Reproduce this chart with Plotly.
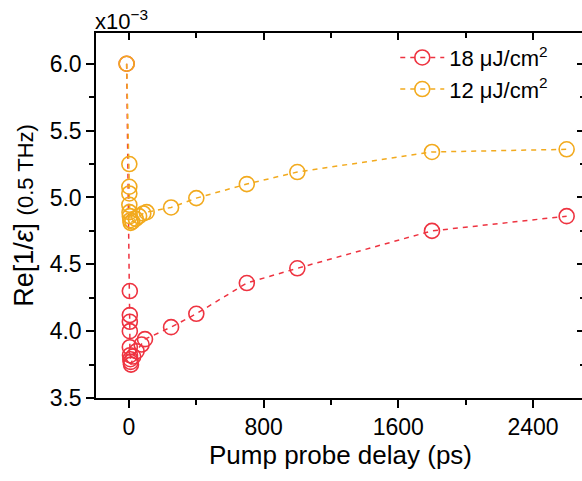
import plotly.graph_objects as go

# Data (values in units of 1e-3)
t_18 = [-14, 5, 5, 5, 5, 5, 6, 8, 10, 12, 25, 45, 75, 95, 250, 400, 700, 1000, 1800, 2600]
v_18 = [6.00, 4.30, 4.12, 4.07, 4.00, 3.88, 3.82, 3.79, 3.77, 3.75, 3.81, 3.85, 3.90, 3.94,
        4.03, 4.13, 4.36, 4.47, 4.75, 4.86]

t_12 = [-14, 2, 2, 2, 2, 3, 5, 8, 10, 20, 40, 60, 85, 105, 250, 400, 700, 1000, 1800, 2600]
v_12 = [6.00, 5.25, 5.08, 5.03, 4.945, 4.89, 4.86, 4.83, 4.81, 4.82, 4.84, 4.86, 4.88, 4.89,
        4.925, 4.995, 5.10, 5.19, 5.34, 5.36]

label_18 = "18 μJ/cm<sup>2</sup>"
label_12 = "12 μJ/cm<sup>2</sup>"
x_ticks = [0, 800, 1600, 2400]
y_ticks = [3.5, 4.0, 4.5, 5.0, 5.5, 6.0]

RED = "#EE3340"
YEL = "#F2AA1E"
FONT = "Liberation Sans, Arial, sans-serif"

x_range = [-196, 2709]
y_range = [3.5, 6.23]

fig = go.Figure()
fig.add_trace(go.Scatter(
    x=t_18, y=v_18, name=label_18, mode="lines+markers",
    line=dict(color=RED, width=1.5, dash="5px,5px"),
    marker=dict(symbol="circle-open", size=15, color=RED, line=dict(width=1.6)),
))
fig.add_trace(go.Scatter(
    x=t_12, y=v_12, name=label_12, mode="lines+markers",
    line=dict(color=YEL, width=1.5, dash="5px,5px"),
    marker=dict(symbol="circle-open", size=15, color=YEL, line=dict(width=1.6)),
))
# empty trace to anchor the mirrored top/right axes
fig.add_trace(go.Scatter(x=[], y=[], xaxis="x2", yaxis="y2", showlegend=False, hoverinfo="skip"))

axis_common = dict(showgrid=False, zeroline=False, linecolor="black", linewidth=1.5,
                   tickcolor="black", tickwidth=1.5, automargin=False)

fig.update_layout(
    width=585, height=481,
    margin=dict(l=96, r=0, t=33, b=83),
    paper_bgcolor="white", plot_bgcolor="white",
    font=dict(family=FONT, size=22, color="black"),
    showlegend=True,
    legend=dict(x=0.612, y=0.99, xanchor="left", yanchor="top",
                bgcolor="rgba(0,0,0,0)", font=dict(size=22),
                tracegroupgap=0, itemwidth=44),
    xaxis=dict(range=x_range, tickvals=x_ticks, ticks="outside", ticklen=8,
               showline=True, tickfont=dict(size=23),
               minor=dict(dtick=400, tick0=0, ticks="outside", ticklen=5,
                          tickcolor="black", tickwidth=1.5),
               title=dict(text="Pump probe delay (ps)", font=dict(size=26), standoff=1),
               **axis_common),
    yaxis=dict(range=y_range, tickvals=y_ticks, ticktext=[f"{v:.1f}" for v in y_ticks],
               ticks="outside", ticklen=8, showline=True, tickfont=dict(size=23),
               minor=dict(dtick=0.25, tick0=3.5, ticks="outside", ticklen=5,
                          tickcolor="black", tickwidth=1.5),
               title=dict(text="Re[1/<i>ε</i>] <span style='font-size:22px'>(0.5 THz)</span>",
                          font=dict(size=27), standoff=8),
               **axis_common),
    xaxis2=dict(range=x_range, overlaying="x", side="top", anchor="y2",
                tickvals=x_ticks, ticks="inside", ticklen=7, showticklabels=False,
                showline=True,
                minor=dict(dtick=400, tick0=0, ticks="inside", ticklen=5,
                           tickcolor="black", tickwidth=1.5),
                **axis_common),
    yaxis2=dict(range=y_range, overlaying="y", side="right", anchor="x2",
                tickvals=y_ticks, ticks="inside", ticklen=8, showticklabels=False,
                showline=True,
                minor=dict(dtick=0.25, tick0=3.5, ticks="inside", ticklen=5,
                           tickcolor="black", tickwidth=1.5),
                **axis_common),
)

fig.add_annotation(text="x10<sup>−3</sup>", xref="paper", yref="paper", x=0, y=1,
                   xanchor="left", yanchor="bottom", xshift=-3, yshift=-3, showarrow=False,
                   font=dict(size=22, family=FONT))

fig.write_html("out.html", config={"displayModeBar": False},
               post_script="document.body.style.margin='0';document.body.style.overflow='hidden';")
